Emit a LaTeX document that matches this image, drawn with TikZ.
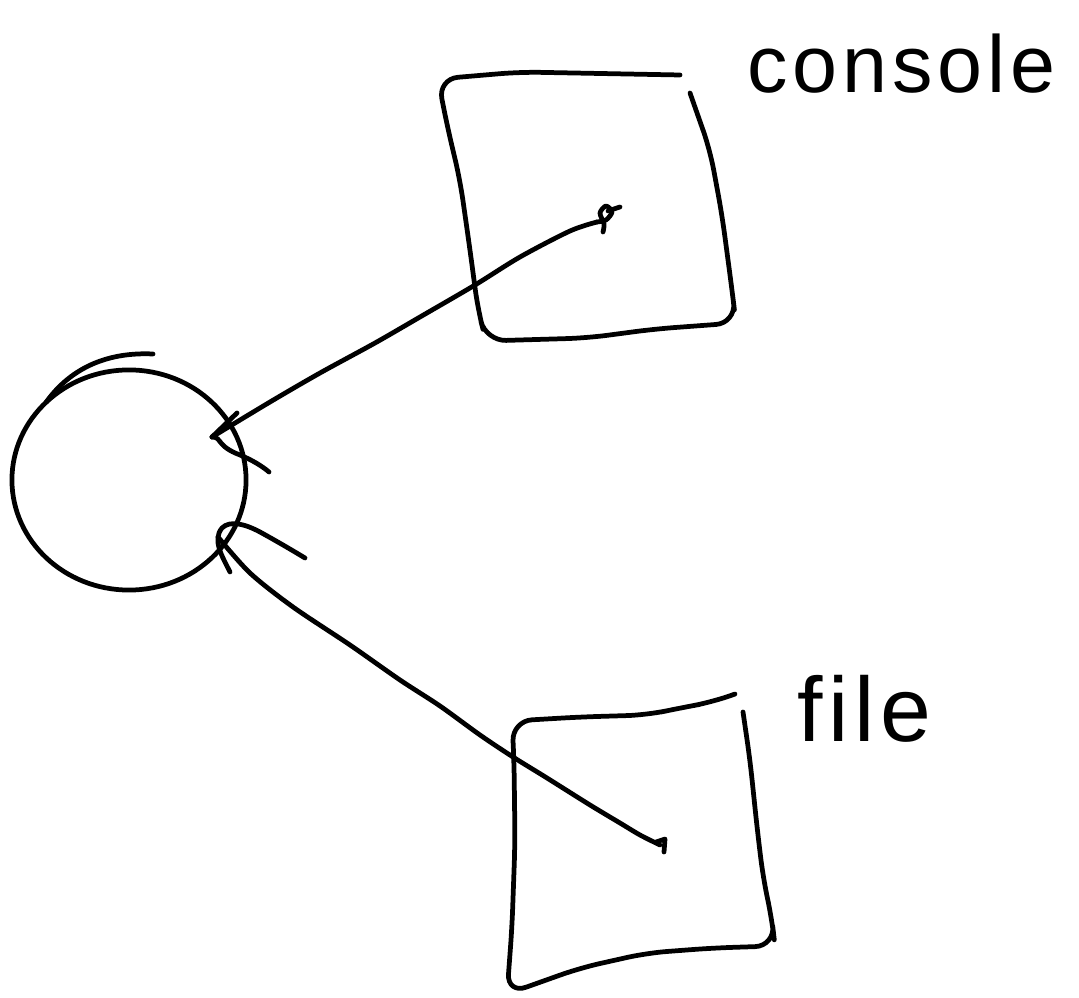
\documentclass[tikz,border=0pt]{standalone}
\usepackage{fontspec}
\setmainfont{Liberation Sans}
\usetikzlibrary{shapes.geometric}
\begin{document}
\begin{tikzpicture}[x=0.01cm,y=-0.01cm,
  pen/.style={line width=1.35pt, line cap=round, line join=round},
  handtext/.style={inner sep=0pt}]
\useasboundingbox (0,0) rectangle (1079,998);

% process circle with its overlapping pen start
\node[pen, draw, ellipse, minimum width=2.34cm, minimum height=2.20cm,
      inner sep=0pt, outer sep=0pt] (proc) at (129,480) {};
\draw[pen] (153,354) .. controls (110,352) and (72,366) .. (proc.137);

% console box (open at the top right corner)
\draw[pen, rounded corners=0.2cm]
  (680,75) -- (520,72) -- (438,79) -- (447,125) -- (460,180) -- (470,250)
  -- (478,310) -- (486,341) -- (587,338) -- (655,329) -- (736,323)
  -- (732,290) -- (722,215) -- (710,150) -- (690,93);
\node[handtext, anchor=base west,
      font={\fontsize{23}{28}\selectfont\addfontfeatures{LetterSpace=6}}]
  (console) at (747,93) {console};

% file box (open at the top right corner)
\draw[pen, rounded corners=0.2cm]
  (735,694) -- (713,702) -- (680,708) -- (647,715) -- (580,717) -- (512,721)
  -- (514,760) -- (515,843) -- (512,927) -- (507,994) -- (580,968)
  -- (647,953) -- (713,948) -- (775,946) -- (772,920) -- (763,877)
  -- (757,827) -- (750,760) -- (743,712);
\node[handtext, anchor=base west,
      font={\fontsize{26}{30}\selectfont\addfontfeatures{LetterSpace=6}}]
  (file) at (797,742) {file};

% connector ends
\coordinate (conA) at (597,222);
\coordinate (tipA) at (212,437);
\coordinate (conB) at (660,845);
\coordinate (tipB) at (218,537);

% console -> process
\draw[pen] plot[smooth] coordinates {(conA) (570,231) (520,257) (475,285)
  (420,317) (375,343) (320,373) (270,402) (tipA)};
\draw[pen] plot[smooth] coordinates {(conA) (606,220) (612,212) (606,206)
  (600,213) (604,224) (603,232)};
\draw[pen] (608,211) -- (620,207);
\draw[pen] (tipA) -- (237,413);
\draw[pen] (tipA) .. controls (222,437) and (216,446) .. (240,455)
  .. controls (252,460) and (262,466) .. (269,472);

% file -> process
\draw[pen] plot[smooth] coordinates {(tipB) (250,573) (293,607) (350,645)
  (400,680) (440,706) (480,735) (513,757) (547,778) (590,805) (620,823)
  (640,835) (conB)};
\draw[pen] (656,842) -- (665,839) -- (664,852);
\draw[pen] (230,572) .. controls (222,556) and (212,540) .. (222,528)
  .. controls (230,520) and (245,524) .. (260,532)
  .. controls (280,543) and (295,552) .. (305,558);
\end{tikzpicture}
\end{document}
